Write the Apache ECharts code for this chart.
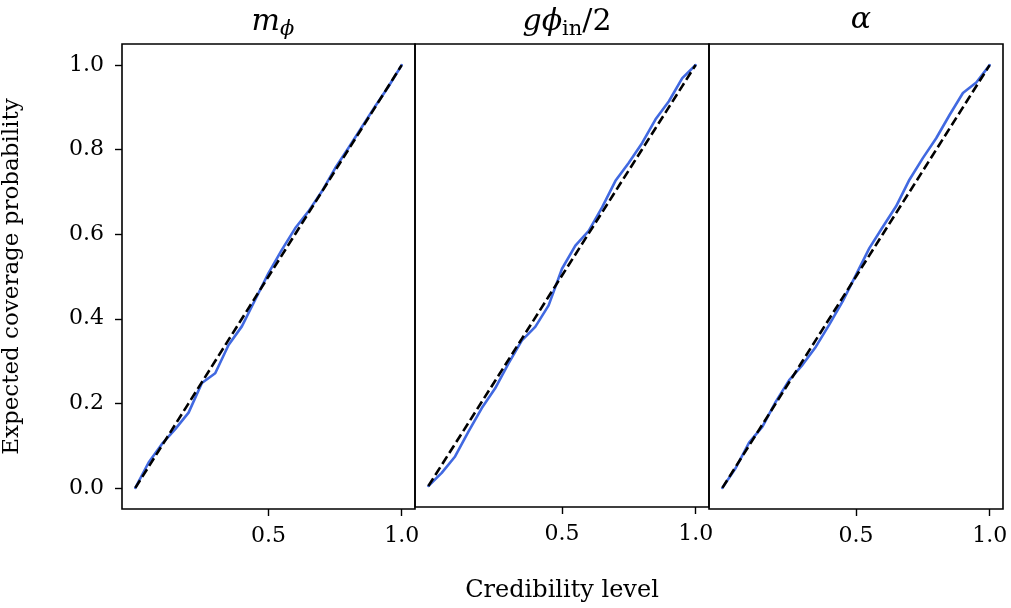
<!DOCTYPE html>
<html>
<head>
<meta charset="utf-8">
<script src="https://cdn.jsdelivr.net/npm/echarts@6/dist/echarts.min.js"></script>
<style>
html, body { margin: 0; padding: 0; background: #fff; }
#chart { width: 1011px; height: 608px; }
</style>
</head>
<body>
<div id="chart"></div>
<script>
// credibility levels (x) and expected coverage
var levels = [0, 0.05, 0.1, 0.15, 0.2, 0.25, 0.3, 0.35, 0.4, 0.45, 0.5, 0.55, 0.6, 0.65, 0.7, 0.75, 0.8, 0.85, 0.9, 0.95, 1.0];
var coverageM = [0, 0.06, 0.104, 0.139, 0.178, 0.248, 0.271, 0.338, 0.382, 0.445, 0.508, 0.563, 0.614, 0.654, 0.701, 0.756, 0.804, 0.853, 0.902, 0.949, 1.0];
var coverageG = [0, 0.031, 0.07, 0.129, 0.185, 0.232, 0.291, 0.346, 0.378, 0.429, 0.516, 0.571, 0.606, 0.662, 0.725, 0.768, 0.815, 0.871, 0.914, 0.969, 1.0];
var coverageA = [0, 0.047, 0.107, 0.145, 0.204, 0.255, 0.291, 0.334, 0.386, 0.441, 0.504, 0.567, 0.617, 0.666, 0.729, 0.78, 0.827, 0.882, 0.934, 0.959, 1.0];
var xTicks = [0.5, 1.0];
var yTicks = [0.0, 0.2, 0.4, 0.6, 0.8, 1.0];

var panels = [
  { title: '{it|m}{subit|ϕ}', data: coverageM },
  { title: '{it|gϕ}{sub|in}{rm|/2}', data: coverageG },
  { title: '{it|α}', data: coverageA }
];

var serif = 'DejaVu Serif';
var left0 = 121, panelW = 294, top0 = 44, panelH = 465;

var titleRich = {
  it: { fontFamily: serif, fontStyle: 'italic', fontWeight: 'normal', fontSize: 30, color: '#000' },
  rm: { fontFamily: serif, fontWeight: 'normal', fontSize: 30, color: '#000' },
  sub: { fontFamily: serif, fontWeight: 'normal', fontSize: 21, color: '#000', padding: [14, 0, 0, 0] },
  subit: { fontFamily: serif, fontStyle: 'italic', fontWeight: 'normal', fontSize: 21, color: '#000', padding: [14, 0, 0, 0] }
};

var option = {
  backgroundColor: '#fff',
  animation: false,
  title: [],
  grid: [],
  xAxis: [],
  yAxis: [],
  series: []
};

panels.forEach(function (p, i) {
  option.title.push({
    text: p.title,
    left: left0 + panelW * i + panelW / 2,
    top: 0,
    textAlign: 'center',
    textStyle: { fontWeight: 'normal', fontSize: 30, rich: titleRich }
  });
  option.grid.push({
    left: left0 + panelW * i, top: top0, width: panelW, height: panelH,
    show: true, borderColor: '#000', borderWidth: 1.6, backgroundColor: 'transparent'
  });
  option.xAxis.push({
    type: 'value', gridIndex: i, min: -0.05, max: 1.05,
    splitLine: { show: false },
    axisLine: { show: false, onZero: false },
    axisTick: { show: true, customValues: xTicks, length: 7, lineStyle: { color: '#000', width: 1.4 } },
    axisLabel: { customValues: xTicks, margin: 16, fontFamily: serif, fontSize: 22, color: '#000',
      formatter: function (v) { return v.toFixed(1); } },
    name: i === 1 ? 'Credibility level' : '',
    nameLocation: 'middle', nameGap: 72,
    nameTextStyle: { fontFamily: serif, fontSize: 24, color: '#000' }
  });
  option.yAxis.push({
    type: 'value', gridIndex: i, min: -0.05, max: 1.05,
    splitLine: { show: false },
    axisLine: { show: false, onZero: false },
    axisTick: { show: i === 0, customValues: yTicks, length: 7, lineStyle: { color: '#000', width: 1.4 } },
    axisLabel: { show: i === 0, customValues: yTicks, margin: 18, fontFamily: serif, fontSize: 22, color: '#000',
      formatter: function (v) { return v.toFixed(1); } },
    name: i === 0 ? 'Expected coverage probability' : '',
    nameLocation: 'middle', nameGap: 98, nameRotate: 90,
    nameTextStyle: { fontFamily: serif, fontSize: 23, color: '#000' }
  });
  option.series.push({
    type: 'line', xAxisIndex: i, yAxisIndex: i, showSymbol: false, symbol: 'none',
    data: levels.map(function (x, k) { return [x, p.data[k]]; }),
    lineStyle: { color: '#4169E1', width: 2.6, cap: 'round', join: 'round' },
    z: 2
  });
  option.series.push({
    type: 'line', xAxisIndex: i, yAxisIndex: i, showSymbol: false, symbol: 'none',
    data: levels.map(function (x) { return [x, x]; }),
    lineStyle: { color: '#000', width: 2.6, type: [9, 4] },
    z: 3
  });
});

var chart = echarts.init(document.getElementById('chart'));
chart.setOption(option);
</script>
</body>
</html>
